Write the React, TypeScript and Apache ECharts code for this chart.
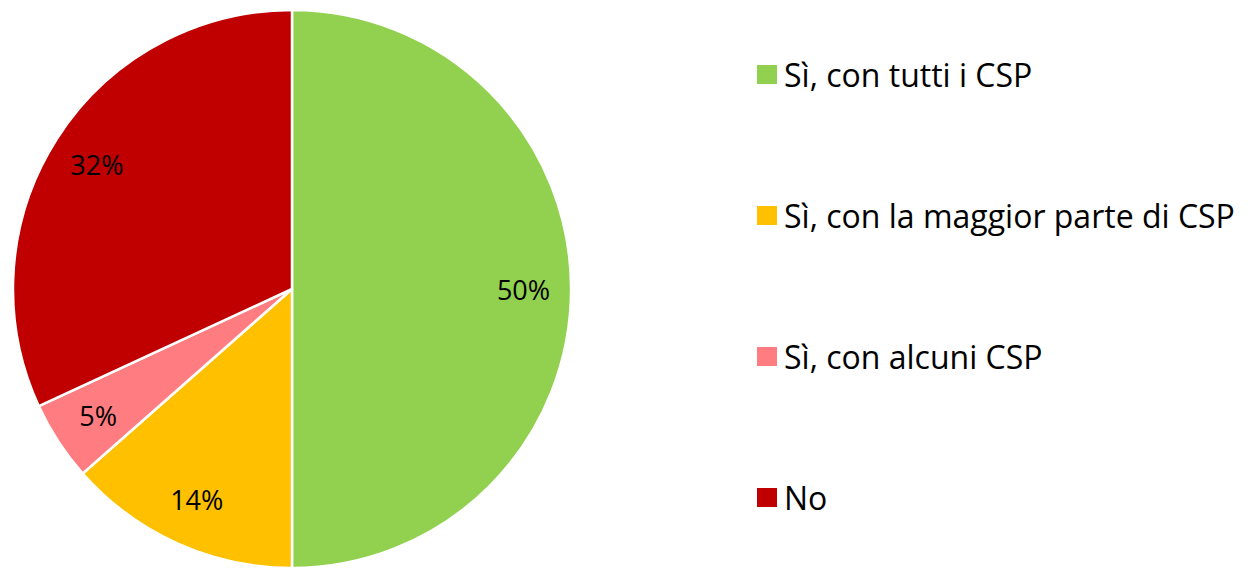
import React, { useEffect, useRef } from "react";
import * as echarts from "echarts";

const categories = ["Sì, con tutti i CSP", "Sì, con la maggior parte di CSP", "Sì, con alcuni CSP", "No"];
const values = [50, 13.5, 4.6, 31.9];
const colors = ["#92D050", "#FFC000", "#FF7C80", "#C00000"];

export default function App() {
  const ref = useRef<HTMLDivElement>(null);
  useEffect(() => {
    const chart = echarts.init(ref.current!, null, { renderer: "svg" });
    const data = categories.map((name, i) => ({ name, value: values[i], itemStyle: { color: colors[i] } }));
    chart.setOption({
      animation: false,
      backgroundColor: "#ffffff",
      legend: {
        orient: "vertical",
        left: 750,
        top: 51,
        itemWidth: 22,
        itemHeight: 21,
        itemGap: 104,
        icon: "rect",
        data: categories,
        textStyle: { fontFamily: "Open Sans", fontSize: 32, lineHeight: 37, color: "#000", padding: [0, 0, 0, 1] },
      },
      series: [
        {
          type: "pie",
          center: [292, 289],
          radius: [0, 279],
          startAngle: 90,
          clockwise: true,
          label: { show: false },
          labelLine: { show: false },
          itemStyle: { borderColor: "#ffffff", borderWidth: 2.5 },
          emphasis: { disabled: true },
          data,
        },
        {
          type: "pie",
          center: [292, 289],
          radius: [178, 279],
          startAngle: 90,
          clockwise: true,
          silent: true,
          legendHoverLink: false,
          itemStyle: { color: "transparent", borderWidth: 0 },
          label: {
            show: true,
            position: "inside",
            fontFamily: "Open Sans",
            fontSize: 27,
            color: "#000",
            formatter: (p: any) => Math.round(p.value) + "%",
          },
          labelLine: { show: false },
          emphasis: { disabled: true },
          data: categories.map((name, i) => ({ name, value: values[i], itemStyle: { color: "transparent" } })),
        },
      ],
    });
    return () => chart.dispose();
  }, []);
  return <div ref={ref} style={{ position: "fixed", left: 0, top: 0, width: 1248, height: 569 }} />;
}
